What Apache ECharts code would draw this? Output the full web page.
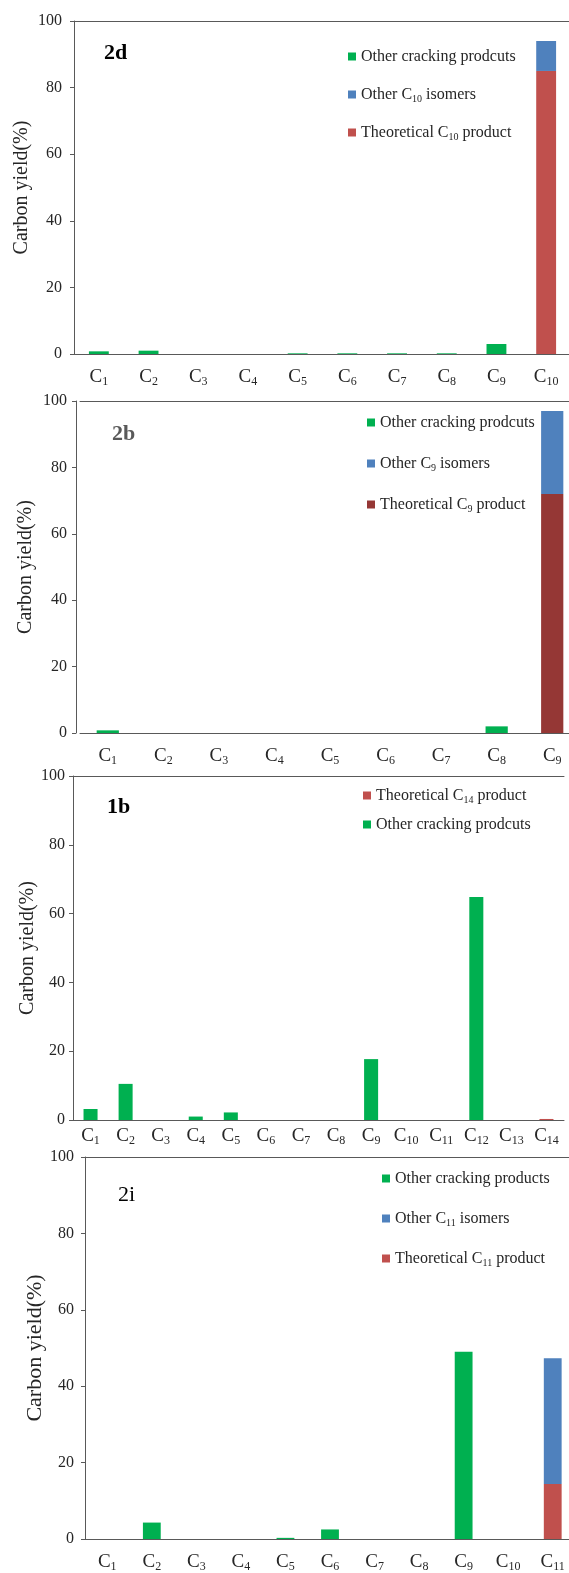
<!DOCTYPE html>
<html>
<head>
<meta charset="utf-8">
<script src="https://cdn.jsdelivr.net/npm/echarts@6/dist/echarts.min.js"></script>
<style>
  html, body { margin: 0; padding: 0; background: #fff; }
  #chart { width: 569px; height: 1573px; }
</style>
</head>
<body>
<div id="chart"></div>
<script>
// panel 2d
var cats1 = ['C1', 'C2', 'C3', 'C4', 'C5', 'C6', 'C7', 'C8', 'C9', 'C10'];
var crack1 = [0.8, 1.0, 0, 0, 0.2, 0.2, 0.2, 0.2, 3.0, 0];
var theo1 = [0, 0, 0, 0, 0, 0, 0, 0, 0, 85];
var iso1 = [0, 0, 0, 0, 0, 0, 0, 0, 0, 9];

// panel 2b
var cats2 = ['C1', 'C2', 'C3', 'C4', 'C5', 'C6', 'C7', 'C8', 'C9'];
var crack2 = [0.8, 0, 0, 0, 0, 0, 0, 2.0, 0];
var theo2 = [0, 0, 0, 0, 0, 0, 0, 0, 72];
var iso2 = [0, 0, 0, 0, 0, 0, 0, 0, 25];

// panel 1b
var cats3 = ['C1', 'C2', 'C3', 'C4', 'C5', 'C6', 'C7', 'C8', 'C9', 'C10', 'C11', 'C12', 'C13', 'C14'];
var crack3 = [3.2, 10.5, 0, 1.0, 2.2, 0, 0, 0, 17.7, 0, 0, 64.8, 0, 0];
var theo3 = [0, 0, 0, 0, 0, 0, 0, 0, 0, 0, 0, 0, 0, 0.3];

// panel 2i
var cats4 = ['C1', 'C2', 'C3', 'C4', 'C5', 'C6', 'C7', 'C8', 'C9', 'C10', 'C11'];
var crack4 = [0, 4.3, 0, 0, 0.3, 2.5, 0, 0, 49.0, 0, 0];
var theo4 = [0, 0, 0, 0, 0, 0, 0, 0, 0, 0, 14.4];
var iso4 = [0, 0, 0, 0, 0, 0, 0, 0, 0, 0, 32.9];

var serif = '"Liberation Serif", "DejaVu Serif", serif';
var green = '#00b050', blue = '#4f81bd', red = '#c0504d', darkRed = '#953735';
var lineColor = '#595959';
var txt = '#262626';

function subFmt(s) {
    return s.replace(/C(\d+)/, 'C{s|$1}');
}

var grids = [
    { left: 74, top: 21, right: -2, height: 333 },
    { left: 80, top: 401, right: -11, height: 332 },
    { left: 73, top: 776, right: 5, height: 344 },
    { left: 85, top: 1157, right: -6, height: 382 }
];
var yOffsets = [0, 4, 0, 0];
var xMargins = [12, 12, 5, 12];
var yMargins = [12, 9, 8, 11];
var nameGaps = [42, 40, 35, 39];
var titleSizes = [20, 20, 20, 22];
var catsAll = [cats1, cats2, cats3, cats4];

var xAxes = catsAll.map(function (c, i) {
    return {
        type: 'category', gridIndex: i, data: c,
        axisLine: { lineStyle: { color: lineColor } },
        axisTick: { show: false },
        axisLabel: {
            interval: 0, margin: xMargins[i], color: txt, fontFamily: serif, fontSize: 19, lineHeight: 22,
            formatter: subFmt,
            rich: { s: { fontFamily: serif, fontSize: 12, lineHeight: 11, verticalAlign: 'bottom', color: txt } }
        }
    };
});
// top frame line of each panel
catsAll.forEach(function (c, i) {
    xAxes.push({
        type: 'category', gridIndex: i, data: c, position: 'top',
        axisLine: { lineStyle: { color: lineColor } },
        axisTick: { show: false }, axisLabel: { show: false }
    });
});

var option = {
    backgroundColor: '#fff',
    animation: false,
    grid: grids.map(function (g) {
        return Object.assign({ outerBoundsMode: 'none', containLabel: false }, g);
    }),
    xAxis: xAxes,
    yAxis: catsAll.map(function (c, i) {
        return {
            type: 'value', gridIndex: i, min: 0, max: 100, interval: 20, offset: yOffsets[i],
            name: 'Carbon yield(%)', nameLocation: 'middle', nameGap: nameGaps[i], nameMoveOverlap: false,
            nameTextStyle: { fontFamily: serif, fontSize: titleSizes[i], color: txt },
            axisLine: { show: true, lineStyle: { color: lineColor } },
            axisTick: { show: true, length: 4, lineStyle: { color: lineColor } },
            axisLabel: { margin: yMargins[i], color: txt, fontFamily: serif, fontSize: 16 },
            splitLine: { show: false }
        };
    }),
    legend: [
        { names: ['Other cracking prodcuts', 'Other C10 isomers', 'Theoretical C10 product'], left: 348, top: 47, gap: 19 },
        { names: ['Other cracking prodcuts ', 'Other C9 isomers', 'Theoretical C9 product'], left: 367, top: 413, gap: 22 },
        { names: ['Theoretical C14 product', 'Other cracking prodcuts  '], left: 363, top: 786, gap: 10 },
        { names: ['Other cracking products', 'Other C11 isomers', 'Theoretical C11 product'], left: 382, top: 1169, gap: 21 }
    ].map(function (l) {
        return {
            orient: 'vertical', left: l.left, top: l.top, itemGap: l.gap, padding: 0,
            itemWidth: 8, itemHeight: 8, icon: 'rect',
            data: l.names,
            selectedMode: false,
            formatter: function (n) { return subFmt(n.trim()); },
            textStyle: {
                fontFamily: serif, fontSize: 16, lineHeight: 19, color: txt,
                rich: { s: { fontFamily: serif, fontSize: 10, lineHeight: 9, verticalAlign: 'bottom', color: txt } }
            }
        };
    }),
    graphic: [
        { type: 'text', x: 104, y: 53, style: { text: '2d', font: 'bold 22px ' + serif, fill: '#000', verticalAlign: 'middle' } },
        { type: 'text', x: 112, y: 434, style: { text: '2b', font: 'bold 22px ' + serif, fill: '#595959', verticalAlign: 'middle' } },
        { type: 'text', x: 107, y: 807, style: { text: '1b', font: 'bold 22px ' + serif, fill: '#000', verticalAlign: 'middle' } },
        { type: 'text', x: 118, y: 1195, style: { text: '2i', font: '22px ' + serif, fill: '#000', verticalAlign: 'middle' } }
    ],
    series: []
};

function bar(name, data, color, idx, stack) {
    return {
        type: 'bar', name: name, data: data, xAxisIndex: idx, yAxisIndex: idx,
        stack: stack, barWidth: '40%', itemStyle: { color: color }
    };
}

option.series.push(
    bar('Other cracking prodcuts', crack1, green, 0, 'p1'),
    bar('Theoretical C10 product', theo1, red, 0, 'p1'),
    bar('Other C10 isomers', iso1, blue, 0, 'p1'),
    bar('Other cracking prodcuts ', crack2, green, 1, 'p2'),
    bar('Theoretical C9 product', theo2, darkRed, 1, 'p2'),
    bar('Other C9 isomers', iso2, blue, 1, 'p2'),
    bar('Other cracking prodcuts  ', crack3, green, 2, 'p3'),
    bar('Theoretical C14 product', theo3, red, 2, 'p3'),
    bar('Other cracking products', crack4, green, 3, 'p4'),
    bar('Theoretical C11 product', theo4, red, 3, 'p4'),
    bar('Other C11 isomers', iso4, blue, 3, 'p4')
);

var chart = echarts.init(document.getElementById('chart'));
chart.setOption(option);
window.addEventListener('resize', function () {
    chart.resize();
});
</script>
</body>
</html>
